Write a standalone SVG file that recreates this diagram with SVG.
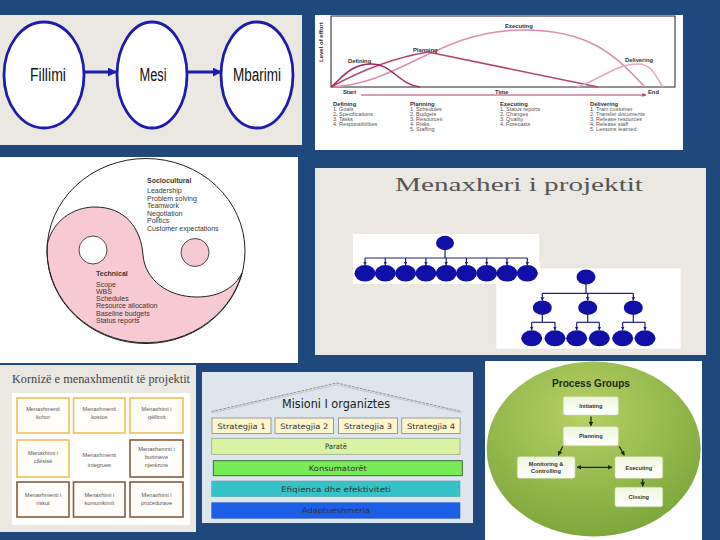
<svg xmlns="http://www.w3.org/2000/svg" width="720" height="540" viewBox="0 0 720 540">
<style>
.sans{font-family:"Liberation Sans",Arial,sans-serif}
.serif{font-family:"Liberation Serif","Times New Roman",serif}
.dv{font-family:"DejaVu Sans",Verdana,sans-serif}
.phase{fill:#ffffff;stroke:#1c1cb0;stroke-width:2.8}
.phaseTxt{font-family:"Liberation Sans",Arial,sans-serif;font-size:18px;fill:#111;text-anchor:middle}
.blueArrow{stroke:#1c1cb0;stroke-width:3;fill:none}
.lst{font-family:"Liberation Sans",Arial,sans-serif;font-size:5.5px;fill:#555}
.lstH{font-family:"Liberation Sans",Arial,sans-serif;font-size:5.8px;fill:#333;font-weight:bold}
.yy{font-family:"Liberation Sans",Arial,sans-serif;font-size:7px;fill:#3a3a3a}
.org{fill:#1010a8}
.orgLine{stroke:#20207a;stroke-width:1.2;fill:none}
.boxY{fill:#fffdf7;stroke:#f0c05a;stroke-width:1.6}
.boxB{fill:#fffdfa;stroke:#8a5a3a;stroke-width:1.6}
.kt{font-family:"Liberation Sans",Arial,sans-serif;font-size:5.6px;fill:#555;text-anchor:middle}
.strat{fill:#fdf6cc;stroke:#9a9a9a;stroke-width:1}
.st{font-family:"DejaVu Sans",Verdana,sans-serif;font-size:7.5px;fill:#333;text-anchor:middle}
.pg{fill:url(#pgBox);stroke:#c9dcaa;stroke-width:0.6}
.pgt{font-family:"Liberation Sans",Arial,sans-serif;font-size:5.6px;font-weight:bold;fill:#333;text-anchor:middle}
.pgA{stroke:#1a2a10;stroke-width:1.3;fill:none}
</style>
<defs>
<marker id="mBlue" viewBox="0 0 10 10" refX="9" refY="5" markerWidth="3" markerHeight="3" orient="auto"><path d="M0,0 L10,5 L0,10 z" fill="#1c1cb0"/></marker>
<marker id="mPink" viewBox="0 0 10 10" refX="9" refY="5" markerWidth="6" markerHeight="4" orient="auto"><path d="M0,0 L10,5 L0,10 z" fill="#b04070"/></marker>
<marker id="mOrg" viewBox="0 0 10 10" refX="9" refY="5" markerWidth="3" markerHeight="3" orient="auto"><path d="M0,0 L10,5 L0,10 z" fill="#20207a"/></marker>
<marker id="mPg" viewBox="0 0 10 10" refX="9" refY="5" markerWidth="3.5" markerHeight="3.5" orient="auto-start-reverse"><path d="M0,0 L10,5 L0,10 z" fill="#1a2a10"/></marker>
<radialGradient id="pgGreen" cx="0.45" cy="0.3" r="0.8">
<stop offset="0" stop-color="#b7d165"/><stop offset="1" stop-color="#74a236"/>
</radialGradient>
<linearGradient id="pgBox" x1="0" y1="0" x2="0" y2="1">
<stop offset="0" stop-color="#eef7dc"/><stop offset="1" stop-color="#ffffff"/>
</linearGradient>
</defs>

<rect width="720" height="540" fill="#1f497d"/>

<!-- Panel 1: phases -->
<g id="panel-phases">
<rect x="0" y="15" width="302" height="130" fill="#ebe8e1"/>
<g id="node-fillimi"><ellipse class="phase" cx="44" cy="75" rx="40" ry="53"/><text class="phaseTxt" x="48" y="81" textLength="36" lengthAdjust="spacingAndGlyphs">Fillimi</text></g>
<g id="node-mesi"><ellipse class="phase" cx="152" cy="75" rx="35" ry="53"/><text class="phaseTxt" x="153" y="81" textLength="27" lengthAdjust="spacingAndGlyphs">Mesi</text></g>
<g id="node-mbarimi"><ellipse class="phase" cx="257" cy="75" rx="36" ry="53"/><text class="phaseTxt" x="257" y="81" textLength="48" lengthAdjust="spacingAndGlyphs">Mbarimi</text></g>
<g id="phase-connectors">
<line class="blueArrow" x1="84" y1="72" x2="116" y2="72" marker-end="url(#mBlue)"/>
<line class="blueArrow" x1="187" y1="72" x2="221" y2="72" marker-end="url(#mBlue)"/>
</g>
</g>

<!-- Panel 2: effort curves -->
<g id="panel-effort">
<rect x="315" y="15" width="368" height="135" fill="#ffffff"/>
<rect x="331" y="16" width="344" height="71" fill="none" stroke="#222" stroke-width="1"/>
<text class="sans" transform="translate(323,62) rotate(-90)" font-size="6" font-weight="bold" fill="#333">Level of effort</text>
<g fill="none" stroke-width="1.5">
<path d="M331,87 C400,84 440,30 523,30 C590,30 615,55 645,87" stroke="#d690b0"/>
<path d="M331,87 Q380,60 428,52 L598,87" stroke="#b04575"/>
<path d="M331,87 C342,78 350,64 372,64 C392,64 398,84 420,87" stroke="#9c2a60"/>
<path d="M577,87 C600,80 615,64 638,64 C652,64 655,76 663,87" stroke="#e8a8c0"/>
</g>
<g class="lstH">
<text x="348" y="63">Defining</text>
<text x="413" y="52">Planning</text>
<text x="505" y="28">Executing</text>
<text x="625" y="62">Delivering</text>
<text x="343" y="94">Start</text>
<text x="495" y="94">Time</text>
<text x="648" y="94">End</text>
</g>
<line x1="361" y1="95" x2="646" y2="95" stroke="#b04070" stroke-width="1" marker-end="url(#mPink)"/>
<g id="list-defining"><text class="lstH" x="333" y="106">Defining</text><text class="lst" x="333" y="111">1. Goals</text><text class="lst" x="333" y="116">2. Specifications</text><text class="lst" x="333" y="121">3. Tasks</text><text class="lst" x="333" y="126">4. Responsibilities</text></g>
<g id="list-planning"><text class="lstH" x="410" y="106">Planning</text><text class="lst" x="410" y="111">1. Schedules</text><text class="lst" x="410" y="116">2. Budgets</text><text class="lst" x="410" y="121">3. Resources</text><text class="lst" x="410" y="126">4. Risks</text><text class="lst" x="410" y="131">5. Staffing</text></g>
<g id="list-executing"><text class="lstH" x="500" y="106">Executing</text><text class="lst" x="500" y="111">1. Status reports</text><text class="lst" x="500" y="116">2. Changes</text><text class="lst" x="500" y="121">3. Quality</text><text class="lst" x="500" y="126">4. Forecasts</text></g>
<g id="list-delivering"><text class="lstH" x="590" y="106">Delivering</text><text class="lst" x="590" y="111">1. Train customer</text><text class="lst" x="590" y="116">2. Transfer documents</text><text class="lst" x="590" y="121">3. Release resources</text><text class="lst" x="590" y="126">4. Release staff</text><text class="lst" x="590" y="131">5. Lessons learned</text></g>
</g>

<!-- Panel 3: yin-yang -->
<g id="panel-yinyang">
<rect x="0" y="157" width="298" height="206" fill="#ffffff"/>
<ellipse cx="146" cy="251" rx="99" ry="92.5" fill="#ffffff"/>
<path d="M47.2,245 C52,222 72,207 95,207 C125,207 141,228 143,255 C145,280 168,297 197,297 C220,297 235,287 242,273 A99,92.5 0 0 1 47.2,245 Z" fill="#f7c9d3" stroke="#222" stroke-width="1"/>
<ellipse cx="146" cy="251" rx="99" ry="92.5" fill="none" stroke="#222" stroke-width="1"/>
<circle cx="93" cy="250" r="14" fill="#ffffff" stroke="#222" stroke-width="0.8"/>
<circle cx="195" cy="252.5" r="14" fill="#f7c9d3" stroke="#222" stroke-width="0.8"/>
<g id="node-sociocultural" class="yy">
<text x="147" y="183" font-weight="bold">Sociocultural</text>
<text x="147" y="193">Leadership</text>
<text x="147" y="200.5">Problem solving</text>
<text x="147" y="208">Teamwork</text>
<text x="147" y="215.5">Negotiation</text>
<text x="147" y="223">Politics</text>
<text x="147" y="230.5">Customer expectations</text>
</g>
<g id="node-technical" class="yy">
<text x="96" y="276" font-weight="bold">Technical</text>
<text x="96" y="286.5">Scope</text>
<text x="96" y="293.5">WBS</text>
<text x="96" y="300.5">Schedules</text>
<text x="96" y="308">Resource allocation</text>
<text x="96" y="315.5">Baseline budgets</text>
<text x="96" y="323">Status reports</text>
</g>
</g>

<!-- Panel 4: org charts -->
<g id="panel-orgcharts">
<rect x="315" y="168" width="391" height="187" fill="#ebe8e1"/>
<text class="serif" x="395" y="191" font-size="19" fill="#555" textLength="248" lengthAdjust="spacingAndGlyphs">Menaxheri i projektit</text>
<g id="org-tall">
<rect x="496" y="268" width="185" height="81" fill="#ffffff" stroke="#e4e4e4" stroke-width="0.6"/>
<g id="org-tall-connectors" class="orgLine">
<line x1="586" y1="284" x2="586" y2="293.3"/>
<line x1="542.3" y1="293.3" x2="633.3" y2="293.3"/>
<line x1="542.3" y1="293.3" x2="542.3" y2="300.5" marker-end="url(#mOrg)"/>
<line x1="587.7" y1="293.3" x2="587.7" y2="300.5" marker-end="url(#mOrg)"/>
<line x1="633.3" y1="293.3" x2="633.3" y2="300.5" marker-end="url(#mOrg)"/>
<line x1="542.3" y1="314" x2="542.3" y2="322.3"/>
<line x1="587.7" y1="314" x2="587.7" y2="322.3"/>
<line x1="633.3" y1="314" x2="633.3" y2="322.3"/>
<line x1="531.7" y1="322.3" x2="555" y2="322.3"/>
<line x1="576.7" y1="322.3" x2="599.3" y2="322.3"/>
<line x1="622.7" y1="322.3" x2="645" y2="322.3"/>
<line x1="531.7" y1="322.3" x2="531.7" y2="330" marker-end="url(#mOrg)"/>
<line x1="555" y1="322.3" x2="555" y2="330" marker-end="url(#mOrg)"/>
<line x1="576.7" y1="322.3" x2="576.7" y2="330" marker-end="url(#mOrg)"/>
<line x1="599.3" y1="322.3" x2="599.3" y2="330" marker-end="url(#mOrg)"/>
<line x1="622.7" y1="322.3" x2="622.7" y2="330" marker-end="url(#mOrg)"/>
<line x1="645" y1="322.3" x2="645" y2="330" marker-end="url(#mOrg)"/>
</g>
<g class="org">
<ellipse id="t-root" cx="586" cy="277" rx="9.5" ry="7.5"/>
<ellipse id="t-a" cx="542.3" cy="307.7" rx="9.5" ry="7.3"/>
<ellipse id="t-b" cx="587.7" cy="307.7" rx="9.5" ry="7.3"/>
<ellipse id="t-c" cx="633.3" cy="307.7" rx="9.5" ry="7.3"/>
<ellipse id="t-a1" cx="531.7" cy="338.3" rx="10.5" ry="8"/>
<ellipse id="t-a2" cx="555" cy="338.3" rx="10.5" ry="8"/>
<ellipse id="t-b1" cx="576.7" cy="338.3" rx="10.5" ry="8"/>
<ellipse id="t-b2" cx="599.3" cy="338.3" rx="10.5" ry="8"/>
<ellipse id="t-c1" cx="622.7" cy="338.3" rx="10.5" ry="8"/>
<ellipse id="t-c2" cx="645" cy="338.3" rx="10.5" ry="8"/>
</g>
</g>
<g id="org-flat">
<rect x="353" y="234" width="187" height="50" fill="#ffffff"/>
<line x1="540" y1="234" x2="540" y2="262" stroke="#dcdcdc" stroke-width="0.8"/>
<g id="org-flat-connectors" class="orgLine">
<line x1="445" y1="250" x2="445" y2="258"/>
<line x1="365" y1="258" x2="527.3" y2="258"/>
<line x1="365" y1="258" x2="365" y2="265" marker-end="url(#mOrg)"/>
<line x1="385.3" y1="258" x2="385.3" y2="265" marker-end="url(#mOrg)"/>
<line x1="405.6" y1="258" x2="405.6" y2="265" marker-end="url(#mOrg)"/>
<line x1="425.9" y1="258" x2="425.9" y2="265" marker-end="url(#mOrg)"/>
<line x1="446.2" y1="258" x2="446.2" y2="265" marker-end="url(#mOrg)"/>
<line x1="466.4" y1="258" x2="466.4" y2="265" marker-end="url(#mOrg)"/>
<line x1="486.7" y1="258" x2="486.7" y2="265" marker-end="url(#mOrg)"/>
<line x1="507" y1="258" x2="507" y2="265" marker-end="url(#mOrg)"/>
<line x1="527.3" y1="258" x2="527.3" y2="265" marker-end="url(#mOrg)"/>
</g>
<g class="org">
<ellipse id="f-root" cx="445" cy="243" rx="9" ry="7.2"/>
<ellipse cx="365" cy="273.3" rx="10.5" ry="8.3"/>
<ellipse cx="385.3" cy="273.3" rx="10.5" ry="8.3"/>
<ellipse cx="405.6" cy="273.3" rx="10.5" ry="8.3"/>
<ellipse cx="425.9" cy="273.3" rx="10.5" ry="8.3"/>
<ellipse cx="446.2" cy="273.3" rx="10.5" ry="8.3"/>
<ellipse cx="466.4" cy="273.3" rx="10.5" ry="8.3"/>
<ellipse cx="486.7" cy="273.3" rx="10.5" ry="8.3"/>
<ellipse cx="507" cy="273.3" rx="10.5" ry="8.3"/>
<ellipse cx="527.3" cy="273.3" rx="10.5" ry="8.3"/>
</g>
</g>
</g>

<!-- Panel 5: framework -->
<g id="panel-framework">
<rect x="0" y="365" width="196" height="167" fill="#ebe8e1"/>
<text class="serif" x="12" y="383" font-size="12" fill="#444" textLength="178" lengthAdjust="spacingAndGlyphs">Kornizë e menaxhmentit të projektit</text>
<rect x="12" y="393" width="178" height="132" fill="#ffffff"/>
<g id="k-kohor"><rect class="boxY" x="17" y="398" width="52" height="35"/><text class="kt" x="43" y="411">Menaxhmenti</text><text class="kt" x="43" y="418.5">kohor</text></g>
<g id="k-kostos"><rect class="boxY" x="73.5" y="398" width="51.5" height="35"/><text class="kt" x="99.3" y="411">Menaxhmenti</text><text class="kt" x="99.3" y="418.5">kostos</text></g>
<g id="k-qellimit"><rect class="boxY" x="130" y="398" width="53" height="35"/><text class="kt" x="156.5" y="411">Menaxhimi i</text><text class="kt" x="156.5" y="418.5">qëllimit</text></g>
<g id="k-cilesise"><rect class="boxY" x="17" y="440" width="52" height="37"/><text class="kt" x="43" y="455">Menaxhimi i</text><text class="kt" x="43" y="463">cilësisë</text></g>
<g id="k-integrues"><text class="kt" x="99.3" y="457" font-size="7" fill="#444">Menaxhmenti</text><text class="kt" x="99.3" y="466.5" font-size="7" fill="#444">integrues</text></g>
<g id="k-burimeve"><rect class="boxB" x="130" y="440" width="53" height="37"/><text class="kt" x="156.5" y="451">Menaxhemnti i</text><text class="kt" x="156.5" y="459">burimeve</text><text class="kt" x="156.5" y="467">njerëzore</text></g>
<g id="k-riskut"><rect class="boxB" x="17" y="482" width="52" height="35"/><text class="kt" x="43" y="497">Menaxhmenti i</text><text class="kt" x="43" y="505">riskut</text></g>
<g id="k-komunikimit"><rect class="boxB" x="73.5" y="482" width="51.5" height="35"/><text class="kt" x="99.3" y="497">Menaxhimi i</text><text class="kt" x="99.3" y="505">komunikimit</text></g>
<g id="k-procedurave"><rect class="boxB" x="130" y="482" width="53" height="35"/><text class="kt" x="156.5" y="497">Menaxhimi i</text><text class="kt" x="156.5" y="505">procedurave</text></g>
</g>

<!-- Panel 6: house -->
<g id="panel-house">
<rect x="202" y="372" width="271" height="151" fill="#dde6ec"/>
<path d="M211.5,411.5 L336.5,383 L461.5,411.5" fill="none" stroke="#8a8a8a" stroke-width="0.9" stroke-dasharray="3,1"/>
<path d="M211.5,413 L336.5,384.8 L461.5,413" fill="none" stroke="#b0b0b0" stroke-width="0.6"/>
<text class="dv" x="336" y="408" font-size="11.5" fill="#222" text-anchor="middle" textLength="108" lengthAdjust="spacingAndGlyphs">Misioni I organiztes</text>
<g id="s1"><rect class="strat" x="212" y="418" width="59" height="15.5"/><text class="st" x="241.5" y="429" textLength="48" lengthAdjust="spacingAndGlyphs">Strategjia 1</text></g>
<g id="s2"><rect class="strat" x="275" y="418" width="58.5" height="15.5"/><text class="st" x="304.3" y="429" textLength="48" lengthAdjust="spacingAndGlyphs">Strategjia 2</text></g>
<g id="s3"><rect class="strat" x="338.5" y="418" width="59" height="15.5"/><text class="st" x="368" y="429" textLength="48" lengthAdjust="spacingAndGlyphs">Strategjia 3</text></g>
<g id="s4"><rect class="strat" x="401.7" y="418" width="58.5" height="15.5"/><text class="st" x="431" y="429" textLength="48" lengthAdjust="spacingAndGlyphs">Strategjia 4</text></g>
<g id="b-parate"><rect x="211.7" y="438.3" width="248.3" height="16" fill="#d9f3a3" stroke="#9aa890" stroke-width="0.8"/><text class="st" x="336" y="449" textLength="22" lengthAdjust="spacingAndGlyphs">Paratë</text></g>
<g id="b-konsumatoret"><rect x="213.3" y="460.7" width="249" height="15" fill="#76ec57" stroke="#3a5a30" stroke-width="0.9"/><text class="st" x="337.8" y="471" textLength="58" lengthAdjust="spacingAndGlyphs">Konsumatorët</text></g>
<g id="b-efiqienca"><rect x="211.7" y="481" width="248.3" height="15.7" fill="#35c3c8" stroke="#6aa0a8" stroke-width="0.6"/><text class="st" x="336" y="491.8" textLength="110" lengthAdjust="spacingAndGlyphs">Efiqienca dhe efektiviteti</text></g>
<g id="b-adaptueshmeria"><rect x="211.7" y="502.7" width="248.3" height="15.6" fill="#1b5fe8" stroke="#3a6ac0" stroke-width="0.6"/><text class="st" x="336" y="513.3" fill="#0a2a66" textLength="68" lengthAdjust="spacingAndGlyphs">Adaptueshmeria</text></g>
</g>

<!-- Panel 7: process groups -->
<g id="panel-process">
<rect x="485" y="361" width="217" height="179" fill="#ffffff"/>
<ellipse cx="593.7" cy="449" rx="107" ry="87.5" fill="url(#pgGreen)"/>
<text class="sans" x="591" y="387" font-size="10.5" font-weight="bold" fill="#1e2a14" text-anchor="middle" textLength="78" lengthAdjust="spacingAndGlyphs">Process Groups</text>
<g id="pg-initiating"><rect class="pg" x="563.3" y="396.7" width="55" height="18.3" rx="2"/><text class="pgt" x="590.8" y="408">Initiating</text></g>
<g id="pg-planning"><rect class="pg" x="563.3" y="426.7" width="55" height="19" rx="2"/><text class="pgt" x="590.8" y="438.2">Planning</text></g>
<g id="pg-monitoring"><rect class="pg" x="517.3" y="456.7" width="57.7" height="21.6" rx="2"/><text class="pgt" x="546" y="465.5">Monitoring &amp;</text><text class="pgt" x="546" y="472.5">Controlling</text></g>
<g id="pg-executing"><rect class="pg" x="615" y="456.7" width="47.7" height="21.6" rx="2"/><text class="pgt" x="638.8" y="469.5">Executing</text></g>
<g id="pg-closing"><rect class="pg" x="615" y="487.3" width="47.7" height="19.4" rx="2"/><text class="pgt" x="638.8" y="499">Closing</text></g>
<g id="pg-connectors" class="pgA">
<line x1="591" y1="416.5" x2="591" y2="425.7" marker-end="url(#mPg)"/>
<line x1="562.7" y1="446.5" x2="558.3" y2="455.2" marker-end="url(#mPg)"/>
<line x1="619.3" y1="446.5" x2="624.3" y2="455.2" marker-end="url(#mPg)"/>
<line x1="577" y1="467.3" x2="612" y2="467.3" marker-start="url(#mPg)" marker-end="url(#mPg)"/>
<line x1="642.7" y1="479.2" x2="642.7" y2="486.3" marker-end="url(#mPg)"/>
</g>
</g>
</svg>
